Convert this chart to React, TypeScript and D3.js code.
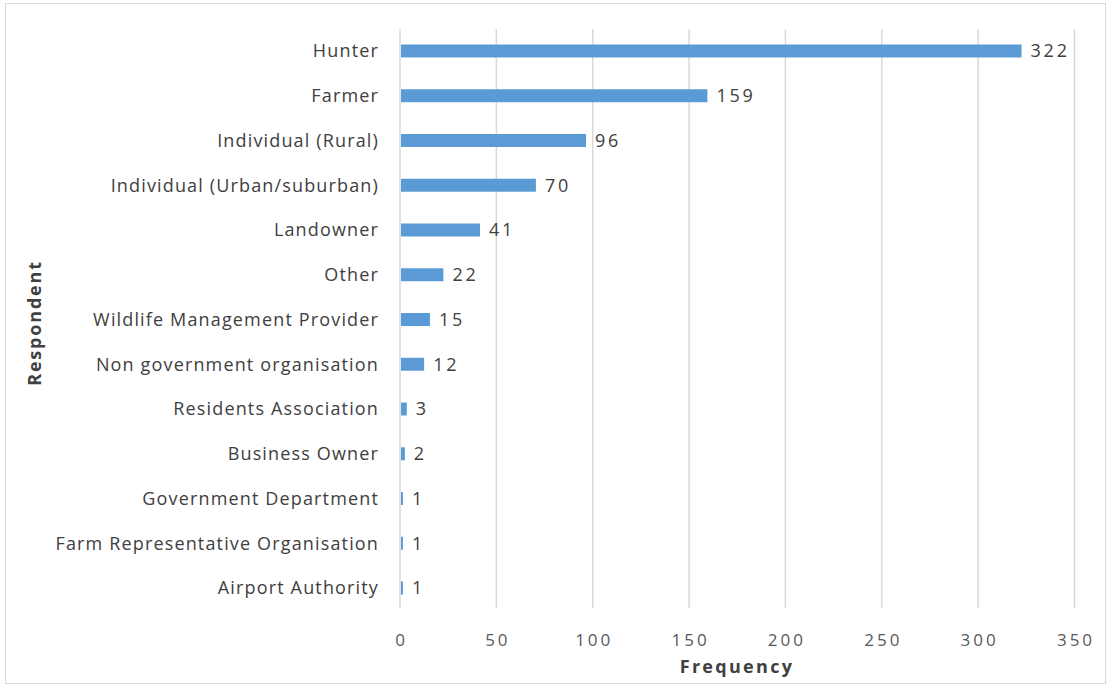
import React from "react";
import * as d3 from "d3";

const categories = [
  "Hunter",
  "Farmer",
  "Individual (Rural)",
  "Individual (Urban/suburban)",
  "Landowner",
  "Other",
  "Wildlife Management Provider",
  "Non government organisation",
  "Residents Association",
  "Business Owner",
  "Government Department",
  "Farm Representative Organisation",
  "Airport Authority",
];
const values = [322, 159, 96, 70, 41, 22, 15, 12, 3, 2, 1, 1, 1];
const xTicks = [0, 50, 100, 150, 200, 250, 300, 350];

const W = 1111;
const H = 687;
const FONT = "'Open Sans', sans-serif";

export default function App() {
  const x = d3.scaleLinear().domain([0, 350]).range([400, 1074.5]);
  const y = d3.scaleBand().domain(categories).range([28.6, 610.4]).paddingInner(0.71).paddingOuter(0.355);
  const bw = y.bandwidth();
  return (
    <svg width={W} height={H} style={{ position: "absolute", left: 0, top: 0 }}>
      <rect x={0} y={0} width={W} height={H} fill="#fff" />
      <rect x={5.5} y={3.5} width={1100} height={680} fill="none" stroke="#d9d9d9" />
      {xTicks.map((t) => (
        <line key={t} x1={x(t)} x2={x(t)} y1={29} y2={608} stroke="#d9d9d9" strokeWidth={1.5} />
      ))}
      {categories.map((c, i) => (
        <g key={c}>
          <rect x={x(0) + 1} y={y(c)!} width={Math.max(1, x(values[i]) - x(0))} height={bw} fill="#5b9bd5" />
          <text x={x(values[i]) + 10} y={y(c)! + bw / 2} dy="0.35em" fontFamily={FONT} fontSize={18} letterSpacing={2.8} fill="#404040">
            {values[i]}
          </text>
          <text x={379} y={y(c)! + bw / 2} dy="0.35em" textAnchor="end" fontFamily={FONT} fontSize={18} letterSpacing={1.15} fill="#404040">
            {c}
          </text>
        </g>
      ))}
      {xTicks.map((t) => (
        <text key={t} x={x(t) + 1.5} y={640} dy="0.35em" textAnchor="middle" fontFamily={FONT} fontSize={17} letterSpacing={3} fill="#595959">
          {t}
        </text>
      ))}
      <text x={737} y={667} dy="0.35em" textAnchor="middle" fontFamily={FONT} fontSize={18} letterSpacing={2.3} fontWeight="bold" fill="#404040">
        Frequency
      </text>
      <text transform="translate(35,323) rotate(-90)" dy="0.35em" textAnchor="middle" fontFamily={FONT} fontSize={18} letterSpacing={1.8} fontWeight="bold" fill="#404040">
        Respondent
      </text>
    </svg>
  );
}
